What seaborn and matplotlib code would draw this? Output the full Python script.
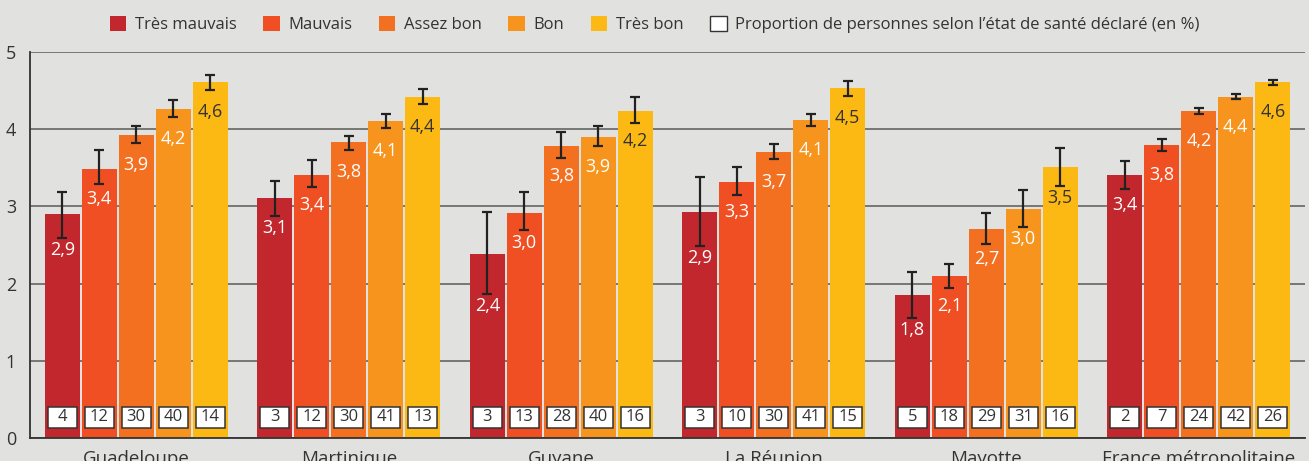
import matplotlib
matplotlib.use("Agg")
import matplotlib.pyplot as plt
from matplotlib.patches import Patch, Rectangle
from matplotlib.transforms import ScaledTranslation
import numpy as np
import pandas as pd
import seaborn as sns

# données
territoires = ["Guadeloupe", "Martinique", "Guyane", "La Réunion", "Mayotte",
               "France métropolitaine"]
etats = ["Très mauvais", "Mauvais", "Assez bon", "Bon", "Très bon"]

# score moyen par état de santé (une liste par territoire)
scores = {
    "Guadeloupe": [2.90, 3.48, 3.92, 4.26, 4.61],
    "Martinique": [3.11, 3.41, 3.83, 4.11, 4.42],
    "Guyane": [2.38, 2.91, 3.78, 3.90, 4.24],
    "La Réunion": [2.93, 3.32, 3.70, 4.12, 4.53],
    "Mayotte": [1.85, 2.10, 2.71, 2.97, 3.51],
    "France métropolitaine": [3.41, 3.80, 4.24, 4.42, 4.61],
}
# bornes des intervalles de confiance
bas = {
    "Guadeloupe": [2.59, 3.29, 3.82, 4.16, 4.51],
    "Martinique": [2.88, 3.25, 3.73, 4.02, 4.33],
    "Guyane": [1.87, 2.69, 3.63, 3.78, 4.08],
    "La Réunion": [2.49, 3.15, 3.61, 4.04, 4.43],
    "Mayotte": [1.55, 1.94, 2.51, 2.73, 3.26],
    "France métropolitaine": [3.23, 3.72, 4.20, 4.39, 4.57],
}
haut = {
    "Guadeloupe": [3.19, 3.73, 4.04, 4.38, 4.70],
    "Martinique": [3.33, 3.60, 3.91, 4.20, 4.52],
    "Guyane": [2.93, 3.19, 3.96, 4.04, 4.42],
    "La Réunion": [3.38, 3.51, 3.81, 4.20, 4.62],
    "Mayotte": [2.15, 2.25, 2.91, 3.21, 3.76],
    "France métropolitaine": [3.59, 3.87, 4.27, 4.45, 4.64],
}
etiquettes = {
    "Guadeloupe": ["2,9", "3,4", "3,9", "4,2", "4,6"],
    "Martinique": ["3,1", "3,4", "3,8", "4,1", "4,4"],
    "Guyane": ["2,4", "3,0", "3,8", "3,9", "4,2"],
    "La Réunion": ["2,9", "3,3", "3,7", "4,1", "4,5"],
    "Mayotte": ["1,8", "2,1", "2,7", "3,0", "3,5"],
    "France métropolitaine": ["3,4", "3,8", "4,2", "4,4", "4,6"],
}
# proportion de personnes selon l'état de santé déclaré (en %)
proportions = {
    "Guadeloupe": [4, 12, 30, 40, 14],
    "Martinique": [3, 12, 30, 41, 13],
    "Guyane": [3, 13, 28, 40, 16],
    "La Réunion": [3, 10, 30, 41, 15],
    "Mayotte": [5, 18, 29, 31, 16],
    "France métropolitaine": [2, 7, 24, 42, 26],
}

couleurs = ["#c1272d", "#f04e23", "#f37021", "#f7941d", "#fdb913"]
fond = "#e1e1df"
gris = "#333333"

lignes = []
for t in territoires:
    for k, e in enumerate(etats):
        lignes.append({"territoire": t, "etat": e, "score": scores[t][k],
                       "bas": bas[t][k], "haut": haut[t][k],
                       "label": etiquettes[t][k], "pct": proportions[t][k]})
df = pd.DataFrame(lignes)

sns.set_style("white")
plt.rcParams["font.family"] = ["Open Sans", "DejaVu Sans"]

fig = plt.figure(figsize=(13.09, 4.61), dpi=100, facecolor=fond)
ax = fig.add_axes([0.0229, 0.0499, 0.9741, 0.8373])
ax.set_facecolor(fond)

sns.barplot(data=df, x="territoire", y="score", hue="etat", order=territoires,
            hue_order=etats, palette=couleurs, width=0.87, gap=0.06,
            errorbar=None, saturation=1, legend=False, linewidth=0,
            ax=ax, zorder=2)

ax.set_xlim(-0.5, 5.5)
ax.set_ylim(0, 5)
ax.set_yticks([0, 1, 2, 3, 4, 5])
ax.yaxis.grid(True, color="#6e6e6e", linewidth=1.3, zorder=0)
ax.set_axisbelow(True)
ax.tick_params(axis="y", length=0, labelsize=13, labelcolor=gris, pad=10)
ax.tick_params(axis="x", which="major", length=0, labelsize=13.5,
               labelcolor=gris, pad=9)
ax.set_xticks(np.arange(-0.5, 6, 1), minor=True)
ax.tick_params(axis="x", which="minor", length=6, width=1.3, color=gris)
ax.set_xlabel("")
ax.set_ylabel("")
for s in ["top", "right"]:
    ax.spines[s].set_visible(False)
for s in ["left", "bottom"]:
    ax.spines[s].set_color(gris)
    ax.spines[s].set_linewidth(1.3)

# barres d'erreur, valeurs et proportions
barres = list(ax.containers)
for k, cont in enumerate(barres):
    sub = df[df["etat"] == etats[k]].set_index("territoire").loc[territoires]
    for bar, (_, r) in zip(cont.patches, sub.iterrows()):
        xc = bar.get_x() + bar.get_width() / 2
        ax.errorbar(xc, r["score"],
                    yerr=[[r["score"] - r["bas"]], [r["haut"] - r["score"]]],
                    fmt="none", ecolor="#222222", elinewidth=1.6,
                    capsize=3.4, capthick=1.6, zorder=4)
        y_lab = min(r["score"] - 0.39, r["bas"] - 0.155)
        ax.text(xc, y_lab, r["label"], ha="center", va="center",
                fontsize=13, color=gris if k == 4 else "white", zorder=5)
        # petite boîte blanche de largeur fixe (en pouces)
        ancre = fig.dpi_scale_trans + ScaledTranslation(xc, 0.27, ax.transData)
        ax.add_patch(Rectangle((-0.145, -0.105), 0.29, 0.21, transform=ancre,
                               fc="white", ec=gris, lw=1.1, zorder=5))
        ax.text(xc, 0.27, str(r["pct"]), ha="center", va="center",
                fontsize=12, color=gris, zorder=6)

poignees = [Patch(facecolor=c, edgecolor="none") for c in couleurs]
poignees.append(Patch(facecolor="white", edgecolor=gris, linewidth=1))
noms = etats + ["Proportion de personnes selon l’état de santé déclaré (en %)"]
fig.legend(poignees, noms, loc="center", bbox_to_anchor=(0.5, 0.947), ncol=6,
           frameon=False, fontsize=12, handlelength=1.0, handleheight=1.0,
           handletextpad=0.5, columnspacing=1.6, labelcolor=gris)

fig.savefig("out.png", dpi=100, facecolor=fond)
